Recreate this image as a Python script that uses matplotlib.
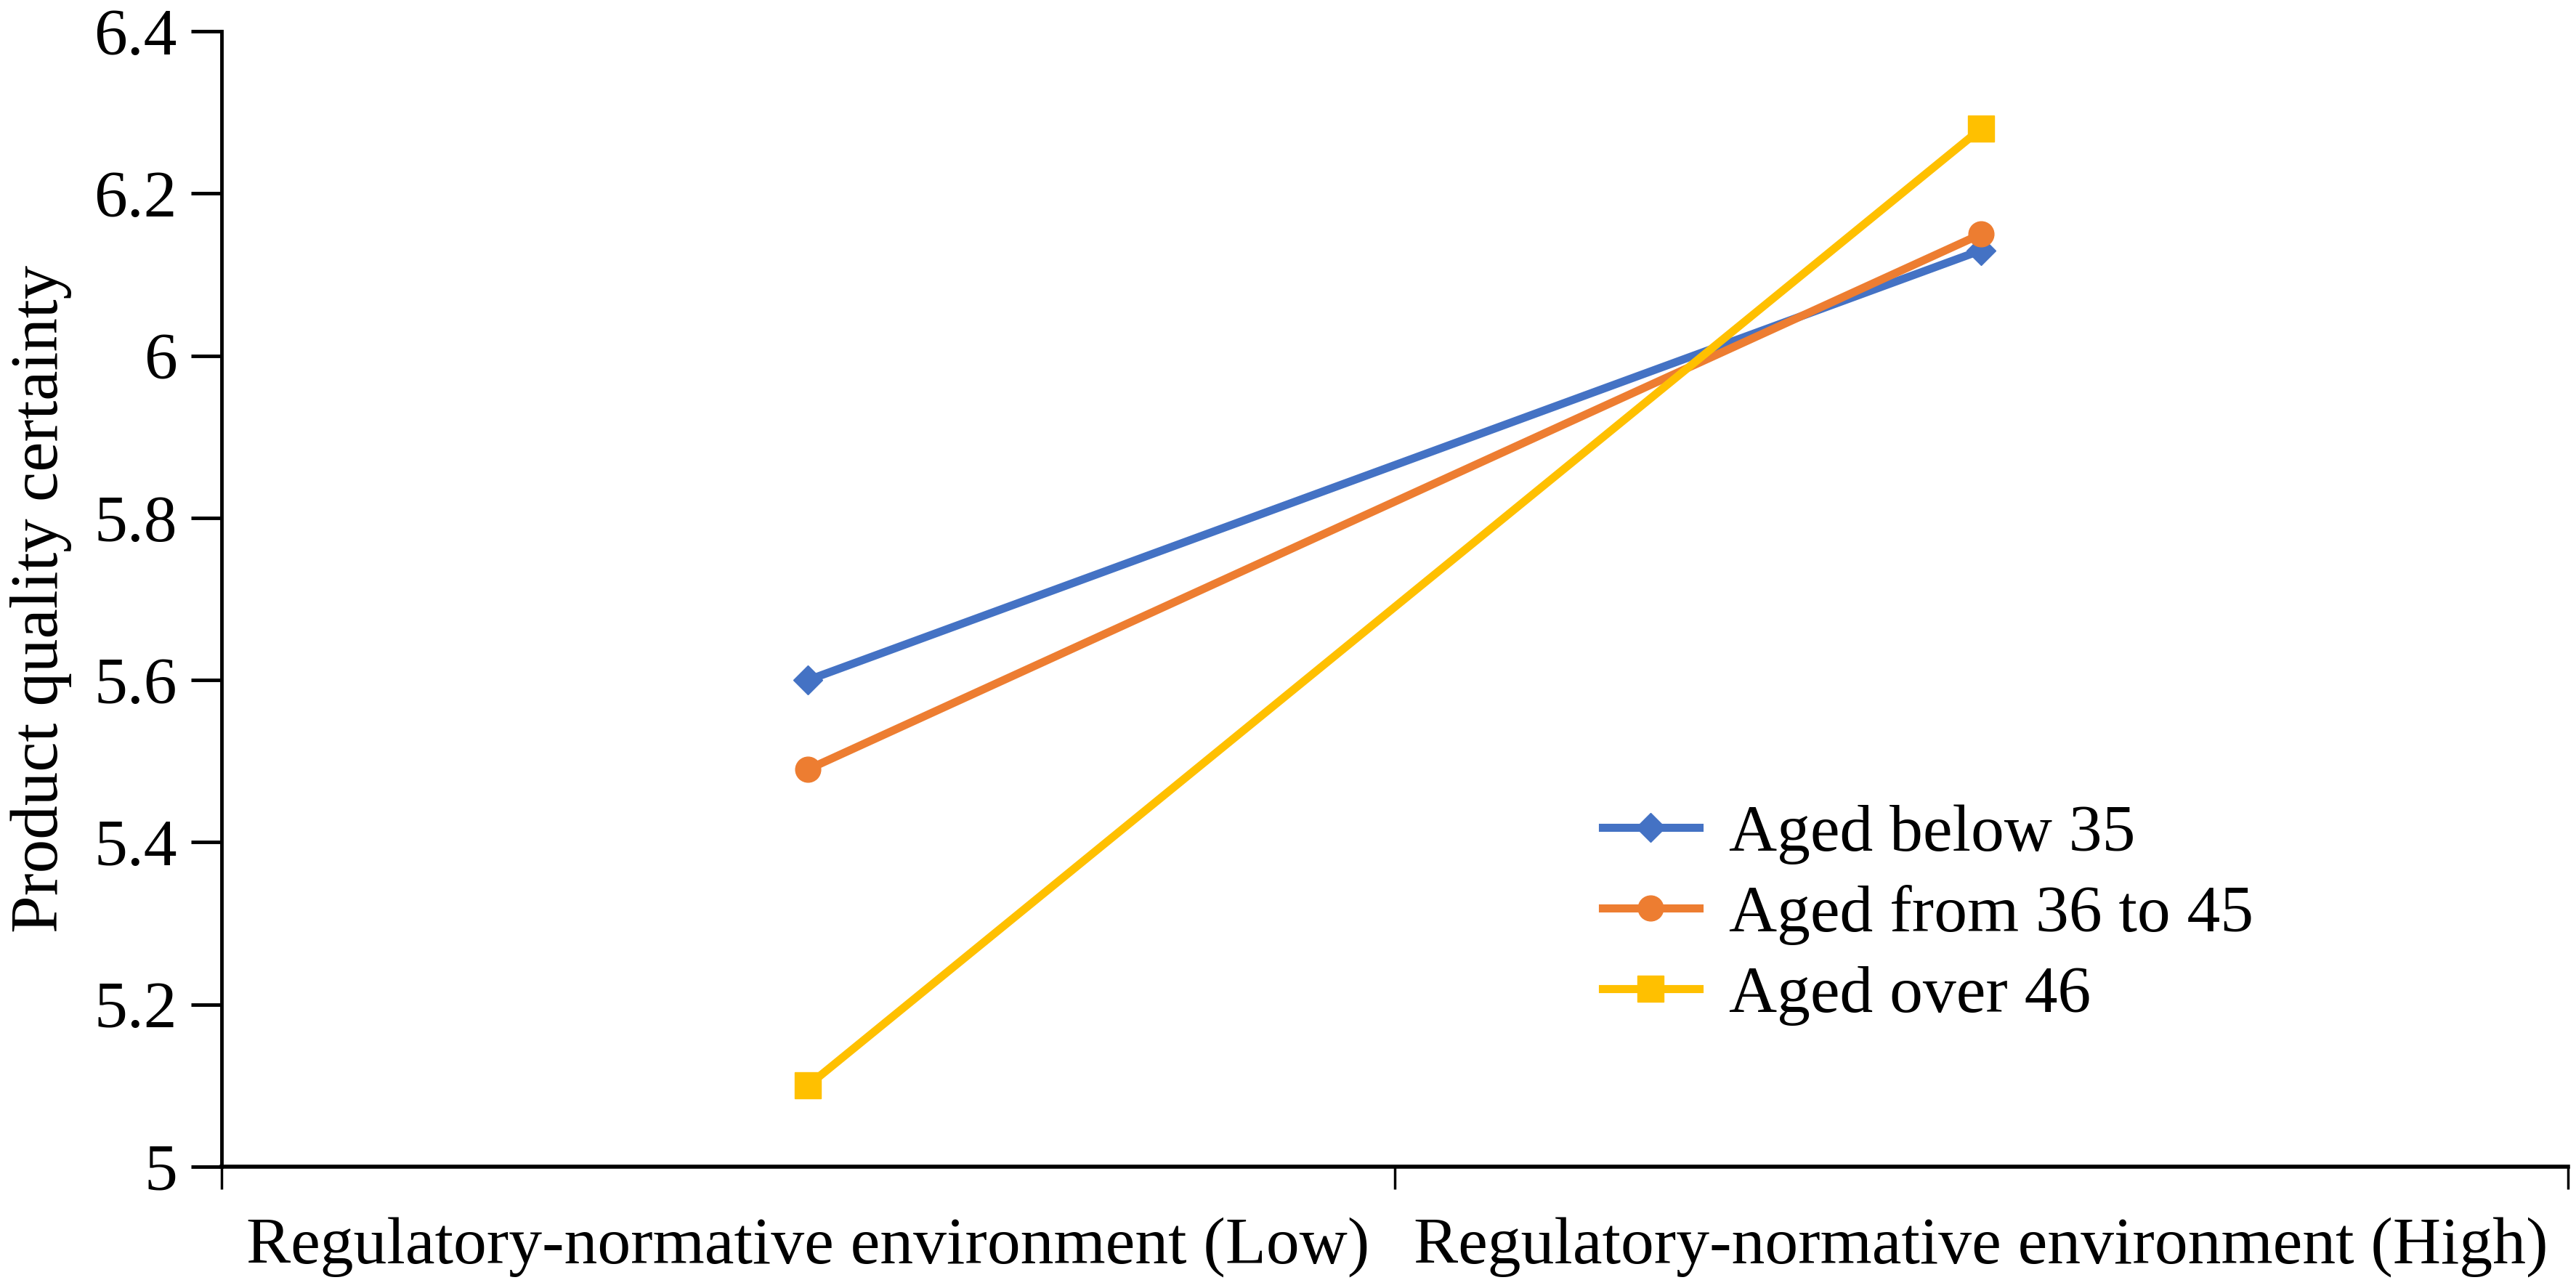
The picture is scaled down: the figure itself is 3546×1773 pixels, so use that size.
import numpy as np
from matplotlib import pyplot as plt

plt.rcParams['font.family'] = 'Liberation Serif'

conditions = ['Regulatory-normative environment (Low)', 'Regulatory-normative environment (High)']
below_35 = [5.60, 6.13]
from_36_to_45 = [5.49, 6.15]
over_46 = [5.10, 6.28]
yticks = [5, 5.2, 5.4, 5.6, 5.8, 6, 6.2, 6.4]
ytick_labels = ['5', '5.2', '5.4', '5.6', '5.8', '6', '6.2', '6.4']

fig = plt.figure(figsize=(35.46, 17.73), dpi=100)
ax = fig.add_axes([0.086, 0.0942, 0.9108, 0.8815])

x = np.arange(len(conditions)) + 0.5
ax.plot(x, below_35, color='#4472C4', lw=8, marker='D', ms=20, label='Aged below 35')
ax.plot(x, from_36_to_45, color='#ED7D31', lw=8, marker='o', ms=25, label='Aged from 36 to 45')
ax.plot(x, over_46, color='#FFC000', lw=8, marker='s', ms=26, label='Aged over 46')

ax.set_xlim(0, 2)
ax.set_ylim(5, 6.4)
ax.set_yticks(yticks)
ax.set_yticklabels(ytick_labels)
ax.set_xticks([0, 1, 2])
ax.set_xticklabels([])
ax.set_xticks(x, minor=True)
ax.set_xticklabels(conditions, minor=True)
ax.tick_params(axis='x', which='minor', length=0, pad=50, labelsize=66)
ax.tick_params(axis='x', which='major', length=22, width=2.5)
ax.tick_params(axis='y', length=30, width=3.5, labelsize=66, pad=14)

for s in ['top', 'right']:
    ax.spines[s].set_visible(False)
ax.spines['left'].set_linewidth(3.5)
ax.spines['bottom'].set_linewidth(4)

ax.set_ylabel('Product quality certainty', fontsize=67, labelpad=22)

ax.legend(loc='upper left', bbox_to_anchor=(0.563, 0.372), frameon=False, fontsize=66,
          handlelength=1.45, handletextpad=0.45, labelspacing=0.3)

plt.savefig('out.png', dpi=100)
